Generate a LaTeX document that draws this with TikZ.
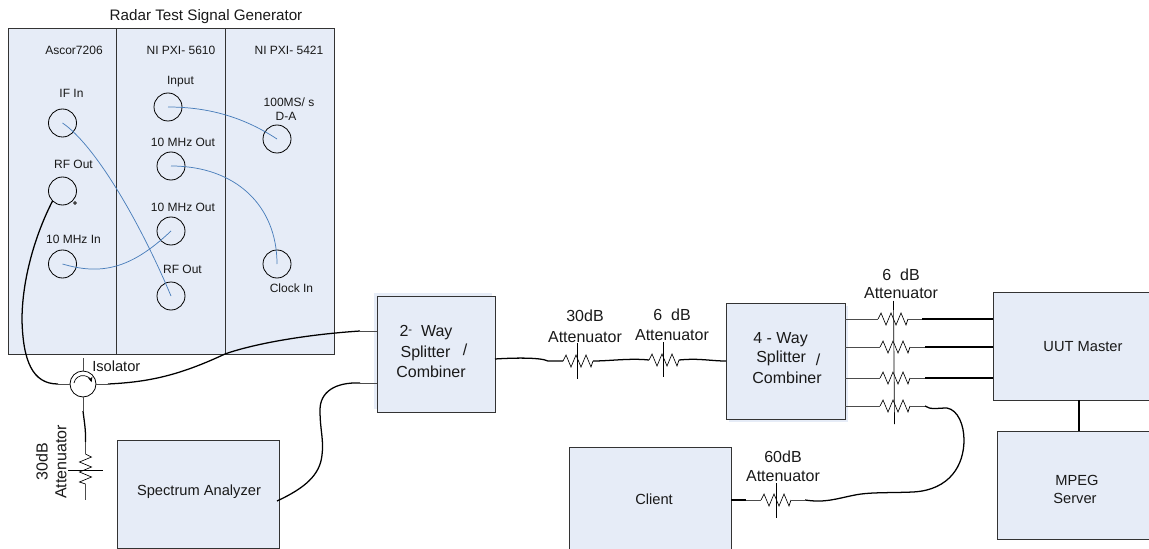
\documentclass[tikz,border=0pt]{standalone}
\usepackage{fontspec}
\setmainfont{Liberation Sans}
\usetikzlibrary{arrows.meta}
\definecolor{panel}{HTML}{E6ECF7}
\definecolor{wire}{HTML}{4A7EBB}
\tikzset{
  x=0.75pt,y=-0.75pt,
  box/.style={draw=black!80,line width=0.6pt,fill=panel,inner sep=0,outer sep=0,anchor=north west},
  ghost/.style={fill=panel,draw=none,inner sep=0,outer sep=0,anchor=north west},
  port/.style={circle,draw=black,line width=0.6pt,minimum size=21pt,inner sep=0,outer sep=0},
  lab/.style={font=\fontsize{9}{11}\selectfont,inner sep=0,align=center,text=black!90},
  blab/.style={font=\fontsize{11}{13.5}\selectfont,inner sep=0,align=center,text=black!90},
  alab/.style={font=\fontsize{12}{14}\selectfont,inner sep=0,align=center,text=black!90},
  bwire/.style={draw=wire,line width=0.55pt},
  cable/.style={draw=black,line width=0.95pt},
  lead/.style={draw=black!70,line width=0.7pt},
  thin wire/.style={draw=black,line width=0.5pt},
  pics/atten/.style={code={
    \draw[thin wire] (-16,0) -- (-13,-6) -- (-8,6) -- (-3,-6) -- (2,6) -- (7,-6) -- (12,6) -- (14,0);
    \coordinate (-l) at (-16,0);
    \coordinate (-r) at (14,0);
  }}
}
\begin{document}
\begin{tikzpicture}
\useasboundingbox (0,0) rectangle (1149,549);
% rack
\node[box,minimum width=81.5pt,minimum height=244.5pt] (p1) at (8,28) {};
\node[box,minimum width=81.75pt,minimum height=244.5pt] (p2) at (116.7,28) {};
\node[box,minimum width=81.75pt,minimum height=244.5pt] (p3) at (225.6,28) {};
\node[inner sep=0,font=\fontsize{11.4}{13}\selectfont,text=black!90] (title) at (206,17) {Radar Test Signal Generator};
\node[lab] (n1) at (74,50) {Ascor7206};
\node[lab] (n2) at (181,50) {NI PXI- 5610};
\node[lab] (n3) at (289,50) {NI PXI- 5421};
% ports
\node[port] (ifin) at (62.5,123) {};
\node[port] (rfo1) at (62.5,191) {};
\node[port] (tenin) at (62.5,264) {};
\node[port] (inp) at (168,107) {};
\node[port] (to1) at (171,166) {};
\node[port] (to2) at (171,231) {};
\node[port] (rfo2) at (171,296) {};
\node[port] (da) at (277,139) {};
\node[port] (clk) at (277,264) {};
\node[circle,draw=black,line width=0.5pt,minimum size=2.2pt,inner sep=0,fill=white] (dot) at (75,203) {};
\node[lab] (t1) at (71.5,93) {IF In};
\node[lab] (t2) at (73.5,164) {RF Out};
\node[lab] (t3) at (73.5,239) {10 MHz In};
\node[lab] (t4) at (180.5,82) {Input};
\node[lab] (t5) at (183,142) {10 MHz Out};
\node[lab] (t6) at (183,207) {10 MHz Out};
\node[lab] (t7) at (182.5,269) {RF Out};
\node[lab] (t8) at (289,102) {100MS/ s};
\node[lab] (t9) at (286,116) {D-A};
\node[lab] (t10) at (291.5,288) {Clock In};
% blue wires
\draw[bwire] (ifin.center) .. controls (95,145) and (140,222) .. (rfo2.center);
\draw[bwire] (inp.center) .. controls (210,107) and (245,118) .. (da.center);
\draw[bwire] (to1.center) .. controls (235,166) and (277,205) .. (clk.center);
\draw[bwire] (tenin.center) .. controls (100,275) and (130,270) .. (to2.center);
% boxes
\node[ghost,minimum width=88.5pt,minimum height=87pt] (twog) at (374,293) {};
\node[box,minimum width=88.5pt,minimum height=87pt] (two) at (377,296) {};
\node[alab] (two1) at (426,333) {2\raisebox{2.5pt}{\scalebox{0.7}{-}}\ \ Way};
\node[alab] (two2) at (425.5,353) {Splitter};
\node[alab] (two3) at (465,350) {/};
\node[alab] (two4) at (431,372) {Combiner};
\node[box,minimum width=121.5pt,minimum height=81pt] (spec) at (117.5,440) {};
\node[blab] (speclab) at (199,492) {Spectrum Analyzer};
\node[ghost,minimum width=89.25pt,minimum height=87pt] (fourg) at (729,306) {};
\node[box,minimum width=89.25pt,minimum height=87pt] (four) at (726,303) {};
\node[alab,anchor=west] (f1) at (753,340) {4 - Way};
\node[alab,anchor=west] (f2) at (756,358) {Splitter};
\node[alab] (f3) at (818,360) {/};
\node[alab] (f4) at (787,378) {Combiner};
\node[box,minimum width=130pt,minimum height=81pt] (uut) at (993,292) {};
\node[blab] (uutlab) at (1083,347) {UUT Master};
\node[box,minimum width=130pt,minimum height=81pt] (mpeg) at (997,431) {};
\node[blab] (m1) at (1077,480) {MPEG};
\node[blab] (m2) at (1075,498) {Server};
\node[box,minimum width=121.5pt,minimum height=82pt] (client) at (569,447) {};
\node[blab] (clientlab) at (654,499) {Client};
\draw[cable] (uut.south -| 1079,400) -- (mpeg.north -| 1079,431);
% isolator
\node[circle,draw=black,line width=0.6pt,minimum size=19.5pt,inner sep=0] (iso) at (83,384) {};
\draw[line width=0.5pt,-{Stealth[length=4pt,width=3.5pt]}] (74,383) arc[start angle=-170,end angle=-15,radius=9];
\node[blab,anchor=west] (isolab) at (92,366) {Isolator};
\coordinate (isot) at (83,358);
\coordinate (isob) at (83,411);
\coordinate (isol) at (58,384);
\coordinate (isor) at (108,384);
\draw[lead] (iso.north) -- (isot);
\draw[lead] (iso.south) -- (isob);
\draw[lead] (iso.west) -- (isol);
\draw[lead] (iso.east) -- (isor);
\draw[cable] (rfo1.south west) .. controls (35,235) and (22,280) .. (22,320) .. controls (23,360) and (32,384) .. (isol);
\draw[cable] (isor) .. controls (150,382) and (180,375) .. (225,354) .. controls (250,345) and (300,335) .. (360,331);
\draw[lead] (360,331) -- (two.west |- 360,331);
\coordinate (sl) at (360,383);
\draw[lead] (sl) -- (two.west |- sl);
\draw[cable] (sl) .. controls (335,382) and (320,392) .. (320,410) .. controls (320,430) and (324,440) .. (322,455) .. controls (320,475) and (305,488) .. (277,501);
% vertical attenuator
\pic[rotate=-90] (av) at (85.5,470) {atten};
\draw[thin wire] (68,470) -- (103,470);
\draw[cable] (isob) .. controls (84,420) and (86,430) .. (85.5,442);
\draw[lead] (85.5,442) -- (av-l);
\draw[lead] (av-r) -- (85.5,500);
\node[alab,rotate=90] (v1) at (42,462) {30dB};
\node[alab,rotate=90] (v2) at (61,462) {Attenuator};
% middle attenuators
\pic (a30) at (579,361) {atten};
\pic (a6) at (665,360) {atten};
\draw[thin wire] (577.5,343) -- (577.5,379);
\draw[thin wire] (663.5,342) -- (663.5,377);
\node[alab] (l30a) at (585,316) {30dB};
\node[alab] (l30b) at (585,337) {Attenuator};
\node[alab] (l6a) at (672,315) {6\ \ dB};
\node[alab] (l6b) at (672,335) {Attenuator};
\draw[cable] (two.east |- 495,359) .. controls (510,358) and (540,357) .. (548,361) -- (a30-l);
\draw[cable] (a30-r) .. controls (610,361) and (630,358) .. (a6-l);
\draw[cable] (a6-r) .. controls (700,358) and (710,361) .. (four.west |- 726,361);
% right attenuators
\pic (b1) at (894,319) {atten};
\pic (b2) at (896,347) {atten};
\pic (b3) at (896,378) {atten};
\pic (b4) at (896,406) {atten};
\draw[thin wire] (893.5,301) -- (894.5,424);
\node[alab] (r6a) at (901,275) {6\ \ dB};
\node[alab] (r6b) at (901,293) {Attenuator};
\draw[lead] (four.east |- 845,319) -- (b1-l);
\draw[lead] (four.east |- 845,347) -- (b2-l);
\draw[lead] (four.east |- 845,378) -- (b3-l);
\draw[lead] (four.east |- 845,406) -- (b4-l);
\coordinate (c1) at (922,319);
\coordinate (c2) at (925,347);
\coordinate (c3) at (925,378);
\coordinate (c4) at (925,406);
\draw[lead] (b1-r) -- (c1);
\draw[lead] (b2-r) -- (c2);
\draw[lead] (b3-r) -- (c3);
\draw[lead] (b4-r) -- (c4);
\draw[cable] (c1) -- (uut.west |- c1);
\draw[cable] (c2) -- (uut.west |- c2);
\draw[cable] (c3) -- (uut.west |- c3);
\coordinate (c5) at (805,500);
\draw[cable] (c4) .. controls (930,410) and (938,408) .. (947,408) .. controls (958,410) and (964,425) .. (964,440) .. controls (964,465) and (950,490) .. (913,492) .. controls (890,493) and (870,492) .. (855,495) .. controls (835,499) and (825,503) .. (c5);
% 60 dB attenuator
\pic (a60) at (777,500) {atten};
\draw[thin wire] (776,483) -- (776,518);
\node[alab] (l60a) at (783,457) {60dB};
\node[alab] (l60b) at (783,476) {Attenuator};
\coordinate (c6) at (746,500);
\draw[cable] (client.east |- c6) -- (c6);
\draw[lead] (c6) -- (a60-l);
\draw[lead] (a60-r) -- (c5);
\end{tikzpicture}
\end{document}
